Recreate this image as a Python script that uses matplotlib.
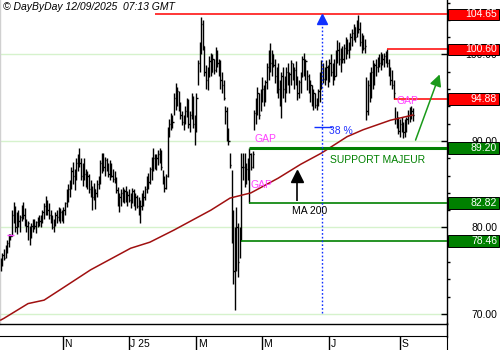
import numpy as np
import pandas as pd
import matplotlib
matplotlib.use('Agg')
import matplotlib.pyplot as plt
from matplotlib import transforms
from matplotlib.patches import Rectangle, FancyArrowPatch
from matplotlib.lines import Line2D

plt.rcParams['font.family'] = ['Liberation Sans', 'DejaVu Sans']

# ---------------- data ----------------
holidays = ['2024-12-25', '2024-12-26', '2025-01-01', '2025-04-18', '2025-04-21', '2025-05-01']
dates = pd.bdate_range('2024-09-09', '2025-09-11')
dates = dates[~dates.isin(pd.to_datetime(holidays))]

low = [75.0, 75.5, 76.2, 76.5, 77.0, 77.8, 78.5, 79.0, 80.5, 79.5,
       79.2, 80.0, 79.5, 80.8, 81.0, 80.2, 79.5, 78.5, 78.0,
       78.8, 79.5, 79.8, 79.4, 80.0, 80.2, 80.0, 80.5, 81.0, 81.5,
       81.5, 81.0, 80.5, 79.8, 79.5, 80.2, 80.5, 80.8, 80.5,
       80.8, 80.5, 81.5, 82.4, 83.0, 83.5, 84.5, 85.0, 84.3, 85.5,
       86.5, 87.0, 85.5, 84.8, 85.5, 84.7, 84.5, 84.0, 83.5, 82.0,
       83.2, 82.1, 83.5, 84.5, 85.0, 86.3, 86.5, 86.0, 86.5,
       85.8, 85.5, 85.8, 85.3, 85.1, 84.0, 82.5, 81.8, 82.5, 83.0,
       82.8, 83.0, 82.5, 83.0, 82.2, 82.8, 82.5, 82.0, 82.2,
       81.5, 80.5, 82.0, 82.5, 83.2, 84.0, 84.5, 85.0, 85.5, 86.5,
       86.8, 86.6, 87.2, 87.5, 86.6, 85.0, 84.1, 84.5, 85.8, 90.5,
       91.3, 91.5, 93.0, 93.6, 94.0, 93.5, 92.5, 91.8, 91.3,
       92.0, 92.8, 91.5, 91.0, 92.5, 91.5, 89.5, 91.0, 96.5, 98.0,
       100.0, 100.5, 97.5, 96.0, 95.9, 97.4, 97.5, 98.0, 97.8,
       98.0, 98.5, 97.5, 96.0, 95.5, 94.7, 92.0, 90.0, 89.5, 86.9,
       78.2, 73.5, 70.5, 75.0, 74.3, 76.5, 78.46, 85.5, 84.7, 85.0,
       85.5, 82.82, 86.6, 86.9, 91.3, 92.0, 93.0, 92.5, 93.5, 94.5,
       94.0, 94.5, 96.0, 97.0, 98.0, 97.5, 98.5, 96.7, 95.5,
       95.0, 94.0, 92.7, 95.0, 94.5, 95.5, 96.5, 95.5, 96.5, 97.0,
       96.0, 96.5, 94.7, 95.0, 95.5, 97.4, 97.5, 97.0, 95.9,
       95.5, 94.5, 94.0, 93.6, 93.8, 93.6, 94.0, 94.5, 96.0, 96.7,
       96.5, 97.0, 96.2, 96.8, 97.5, 96.5, 97.0, 97.5, 99.0, 98.8,
       98.0, 99.0, 99.0, 99.5, 100.0, 99.6, 100.5, 101.0, 101.7,
       101.5, 102.0, 102.5, 101.0, 100.2, 100.5, 100.2, 92.4, 93.0, 94.5,
       95.0, 96.0, 96.5, 97.5, 98.0, 98.6, 98.2, 98.8, 98.5, 99.0,
       98.5, 97.5, 96.5, 96.0, 94.88, 92.0, 91.5, 90.8, 90.5, 91.0,
       90.3, 90.5, 91.0, 92.0, 92.2, 92.5, 92.3]

high = [76.5, 77.0, 77.5, 78.0, 78.5, 79.2, 79.2, 82.0, 83.0, 82.5,
        81.8, 82.0, 81.5, 82.6, 83.0, 82.2, 81.0, 80.8, 80.2,
        80.5, 81.0, 81.0, 80.8, 81.2, 81.5, 81.4, 82.0, 82.8, 83.6,
        83.2, 82.8, 82.0, 81.5, 81.0, 81.8, 82.0, 82.4, 82.2,
        82.0, 82.4, 83.0, 84.5, 85.0, 85.5, 87.0, 87.6, 86.8, 88.0,
        88.5, 89.2, 88.0, 87.5, 88.0, 86.8, 86.5, 86.2, 85.5, 84.8,
        85.1, 84.5, 85.5, 86.0, 87.8, 88.6, 88.6, 88.2, 88.0,
        87.5, 87.8, 87.5, 86.8, 86.5, 85.8, 84.7, 84.0, 84.5, 84.7,
        84.5, 84.8, 84.2, 84.5, 84.0, 84.6, 84.4, 84.0, 83.8,
        83.5, 83.2, 84.0, 84.3, 84.8, 86.0, 86.3, 87.0, 88.2, 89.2,
        88.5, 88.5, 89.0, 89.2, 88.9, 86.6, 86.0, 86.2, 91.6, 92.5,
        93.2, 93.0, 95.5, 96.7, 96.2, 95.8, 94.5, 93.5, 93.0,
        94.0, 95.0, 94.8, 93.5, 95.5, 95.2, 93.0, 95.5, 99.4, 101.5,
        104.3, 104.0, 101.0, 98.8, 98.5, 99.8, 100.2, 100.0, 99.5,
        100.9, 100.5, 99.5, 99.4, 98.0, 97.0, 94.0, 93.9, 91.5, 88.6,
        86.6, 82.0, 80.0, 82.4, 80.5, 80.0, 88.6, 88.6, 88.6, 87.5,
        88.0, 89.2, 88.6, 88.8, 93.6, 95.0, 96.2, 95.5, 96.0, 97.4,
        96.5, 97.0, 99.0, 100.5, 101.3, 100.5, 100.0, 99.5, 98.5,
        99.0, 97.0, 98.0, 98.5, 97.5, 98.5, 99.0, 98.0, 99.4, 99.0,
        98.5, 99.2, 97.5, 97.1, 98.0, 99.8, 100.2, 99.5, 98.2,
        97.8, 97.0, 96.5, 96.0, 95.5, 95.0, 96.0, 98.0, 99.4, 99.0,
        98.5, 99.4, 98.8, 99.5, 100.0, 99.0, 99.5, 100.5, 101.7, 101.5,
        100.8, 101.0, 101.2, 102.0, 101.8, 101.5, 102.5, 103.0, 103.5,
        103.2, 104.0, 104.6, 103.8, 102.5, 102.3, 101.8, 97.4, 97.0, 98.0,
        98.5, 99.4, 99.0, 99.5, 99.7, 100.0, 100.3, 100.0, 100.2, 100.4,
        100.6, 99.5, 98.5, 98.2, 97.1, 93.9, 93.5, 92.8, 92.5, 92.8,
        92.2, 92.5, 92.8, 93.6, 93.9, 94.0, 93.8]

close = [76.0, 76.8, 76.5, 77.8, 78.2, 78.8, 79.0, 81.5, 82.0, 80.0,
         81.0, 80.8, 81.2, 82.2, 81.5, 80.5, 80.2, 80.5, 79.2,
         80.2, 80.5, 80.2, 80.6, 81.0, 80.8, 81.2, 81.8, 82.5, 82.8,
         82.0, 81.5, 80.8, 80.0, 80.5, 81.5, 81.2, 82.0, 81.8,
         81.2, 82.0, 82.8, 84.0, 84.5, 85.2, 86.5, 86.0, 86.5, 87.5,
         88.0, 87.5, 86.0, 87.0, 86.2, 85.5, 86.0, 84.5, 84.0, 83.5,
         84.5, 84.0, 85.0, 85.5, 87.5, 88.0, 87.0, 87.8, 86.8,
         86.2, 87.2, 86.0, 85.6, 85.5, 84.3, 83.0, 83.5, 84.0, 83.5,
         84.2, 83.5, 83.8, 83.2, 83.8, 84.2, 82.8, 83.5, 82.5,
         82.8, 82.5, 83.8, 83.5, 84.5, 85.5, 85.2, 86.8, 87.5, 88.0,
         87.2, 88.0, 88.5, 88.8, 87.0, 85.5, 84.6, 86.0, 91.0, 92.0,
         92.5, 92.2, 95.0, 94.5, 95.8, 94.0, 93.0, 92.2, 92.6,
         93.5, 94.6, 92.0, 93.0, 95.0, 92.0, 92.5, 95.0, 99.0, 101.0,
         103.5, 101.0, 98.0, 97.0, 98.2, 99.2, 98.0, 99.5, 98.2,
         100.0, 99.0, 98.8, 97.0, 96.5, 95.0, 93.5, 90.5, 90.0, 87.2,
         80.0, 75.0, 78.0, 80.0, 76.0, 79.5, 87.0, 87.0, 85.5, 86.8,
         87.5, 88.5, 87.0, 88.5, 93.2, 94.5, 95.5, 93.0, 95.8, 96.0,
         96.2, 96.8, 98.5, 99.5, 99.0, 100.0, 98.8, 97.5, 98.0,
         96.0, 96.5, 97.5, 96.0, 97.2, 98.0, 97.0, 97.8, 99.0, 97.5,
         98.2, 97.0, 95.5, 96.8, 97.5, 99.5, 98.5, 99.2, 97.5,
         96.0, 96.5, 94.5, 95.5, 94.2, 94.8, 95.8, 97.5, 98.8, 97.2,
         98.0, 98.5, 97.0, 99.0, 98.0, 98.5, 97.5, 100.0, 100.5, 99.5,
         100.5, 99.5, 100.8, 101.5, 100.5, 101.2, 102.0, 102.5, 103.2,
         102.0, 103.5, 103.0, 101.5, 101.0, 100.8, 101.0, 93.5, 96.5, 95.5,
         98.0, 97.0, 98.8, 98.5, 99.5, 99.0, 100.0, 99.5, 99.8, 99.6,
         99.0, 98.0, 97.0, 96.5, 95.5, 92.5, 91.8, 91.2, 92.0, 91.5,
         91.0, 91.8, 92.5, 93.0, 92.8, 93.5, 93.0]

ma_dates = ['2024-09-09', '2024-09-11', '2024-10-02', '2024-10-16', '2024-10-30',
            '2024-11-26', '2024-12-04', '2025-01-03', '2025-01-21', '2025-02-11',
            '2025-03-03', '2025-03-14', '2025-04-01', '2025-04-22', '2025-05-16',
            '2025-06-05', '2025-06-24', '2025-07-16', '2025-07-30', '2025-08-22',
            '2025-09-11']
ma_values = [69.3, 69.5, 71.2, 71.6, 72.8, 75.1, 75.7, 77.6, 78.3, 79.7,
             81.1, 82.0, 83.4, 84.0, 85.7, 87.3, 88.6, 90.5, 91.3, 92.4,
             93.0]

month_starts = ['2024-11-01', '2025-01-02', '2025-03-03', '2025-05-02', '2025-07-01', '2025-09-01']
month_labels = ['N', 'J 25', 'M', 'M', 'J', 'S']

red_levels = [104.65, 100.60, 94.88]
green_levels = [89.20, 82.82, 78.46]
y_labels = [70, 80, 90, 100]
small_gap_level = 79.1
header = '© DayByDay 12/09/2025  07:13 GMT'

# ---------------- figure ----------------
W, H = 500, 350
fig = plt.figure(figsize=(W / 100, H / 100), dpi=100)
fig.patch.set_facecolor('white')

ax = fig.add_axes([0, 26 / H, 447 / W, 324 / H])
n = len(dates)
idx = np.arange(n)
xmin, xmax = -0.5, 278.3

for s in ['top']:
    ax.spines[s].set_visible(False)
ax.spines['left'].set_color('#d0d0d0')
ax.spines['right'].set_color('black')
ax.spines['bottom'].set_color('black')
for s in ['left', 'right', 'bottom']:
    ax.spines[s].set_linewidth(1.0)

# grid
for g in y_labels:
    ax.axhline(g, color='#d6f2cc', lw=1.0, zorder=0)

# y axis on right
ax.yaxis.tick_right()
ax.set_yticks(y_labels)
ax.set_yticklabels([f'{v:.2f}' for v in y_labels])
ax.set_yticks(np.arange(70, 107, 2), minor=True)
ax.tick_params(axis='y', which='major', direction='in', length=4, width=1,
               pad=36, labelsize=7.5, right=True, left=False)
ax.tick_params(axis='y', which='minor', direction='out', length=2.5, width=1,
               right=True, left=False)
for lbl in ax.get_yticklabels():
    lbl.set_horizontalalignment('right')
ax.tick_params(axis='x', which='both', bottom=False, labelbottom=False)

# OHLC bars
ax.vlines(idx, low, high, color='black', lw=1.0, zorder=3)
ax.hlines(close, idx, idx + 0.8, color='black', lw=1.0, zorder=3)
ax.hlines(small_gap_level, 4, 8, color='#ff40ff', lw=1.0, zorder=4)

# MA 200
ma_x = dates.get_indexer(pd.to_datetime(ma_dates))
ax.plot(ma_x, ma_values, color='#a01010', lw=1.1, zorder=4)

# level lines
red_start = [96, 241, 245]
for lv, st in zip(red_levels, red_start):
    ax.hlines(lv, st, xmax, color='#ff0000', lw=1.1, zorder=5)
green_start = [155, 155, 150]
green_lw = [2.2, 1.2, 1.2]
for lv, st, lw in zip(green_levels, green_start, green_lw):
    ax.hlines(lv, st, xmax, color='#008000', lw=lw, zorder=5)

# blue dotted vertical and 38% retracement
ax.vlines(200.1, 70.1, 104.0, color='#1030ff', lw=1.0, linestyles=(0, (1.2, 1.5)), zorder=5)
ax.plot([200.1], [104.1], marker='^', color='#1030ff', ms=7.5, zorder=6)
ax.hlines(91.6, 195.1, 206.4, color='#1030ff', lw=1.0, zorder=5)
ax.text(204.6, 91.1, '38 %', color='#2030ff', fontsize=7.5, va='center', ha='left', zorder=7)

# GAP labels
gap_col = '#ff40ff'
ax.text(158.3, 90.25, 'GAP', color=gap_col, fontsize=7.5, va='center', ha='left', zorder=7)
ax.text(155.8, 84.9, 'GAP', color=gap_col, fontsize=7.5, va='center', ha='left', zorder=7)
ax.text(246.8, 94.6, 'GAP', color=gap_col, fontsize=7.5, va='center', ha='left', zorder=7)

# support label
ax.text(205.1, 87.8, 'SUPPORT MAJEUR', color='#008000', fontsize=7.5, va='center',
        ha='left', zorder=7)

# MA 200 label and arrow
ax.text(181.4, 81.9, 'MA 200', color='black', fontsize=7.5, va='center', ha='left', zorder=7)
ax.vlines(184.5, 83.06, 85.6, color='black', lw=1.2, zorder=7)
ax.plot([184.5], [85.9], marker='^', color='black', ms=8, zorder=7)

# green projection arrow
arr = FancyArrowPatch((258.1, 89.8), (274.3, 98.0), arrowstyle='-|>,head_length=7,head_width=3.5',
                      mutation_scale=1, color='#1a9a1a', lw=1.1, zorder=7)
ax.add_patch(arr)

ax.set_xlim(xmin, xmax)
ax.set_ylim(68.84, 106.30)

# value boxes on the right
blend = transforms.blended_transform_factory(fig.transFigure, ax.transData)
box_h = 11.5 / 8.65
for lv in red_levels:
    ax.add_artist(Rectangle((447.5 / W, lv - box_h / 2), 51.5 / W, box_h, transform=blend,
                            facecolor='#ff0000', edgecolor='black', lw=0.7, clip_on=False, zorder=20))
    ax.text(497 / W, lv, f'{lv:.2f}', transform=blend, color='white', fontsize=7.5,
            ha='right', va='center', clip_on=False, zorder=21)
for lv in green_levels:
    ax.add_artist(Rectangle((447.5 / W, lv - box_h / 2), 51.5 / W, box_h, transform=blend,
                            facecolor='#008000', edgecolor='black', lw=0.7, clip_on=False, zorder=20))
    ax.text(497 / W, lv, f'{lv:.2f}', transform=blend, color='white', fontsize=7.5,
            ha='right', va='center', clip_on=False, zorder=21)

# header
fig.text(3 / W, 1 - 7.5 / H, header, fontsize=7.5, style='italic', ha='left', va='center')

# date strip
ax2 = fig.add_axes([0, 0, 447 / W, 14 / H], sharex=ax)
ax2.set_ylim(0, 1)
for s in ['left', 'bottom']:
    ax2.spines[s].set_visible(False)
ax2.spines['top'].set_color('black')
ax2.spines['right'].set_color('black')
ax2.set_yticks([])
ax2.tick_params(axis='x', which='both', bottom=False, labelbottom=False)
ax2.patch.set_alpha(0)
m_x = dates.get_indexer(pd.to_datetime(month_starts))
for mx, lab in zip(m_x, month_labels):
    ax2.axvline(mx, color='black', lw=1.0)
    ax2.text(mx + 0.8, 0.45, lab, fontsize=7.5, ha='left', va='center')
ax.set_xlim(xmin, xmax)

fig.add_artist(Line2D([447 / W, 447 / W], [13 / H, 27 / H], color='black', lw=1.0))

fig.savefig('out.png', dpi=100, facecolor='white')
